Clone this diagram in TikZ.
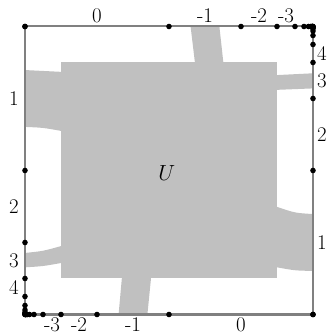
\documentclass[tikz,border=0pt]{standalone}
\begin{document}
\begin{tikzpicture}[x=1cm,y=1cm,
  gfill/.style={fill={rgb,255:red,192;green,192;blue,192}},
  edgeline/.style={draw={rgb,255:red,128;green,128;blue,128},line width=1.6pt},
  vdot/.style={circle,fill=black,inner sep=0pt,minimum size=4.4pt},
  lab/.style={inner sep=0pt,font=\fontsize{16.5}{20}\selectfont}]
\useasboundingbox (-0.694,-0.514) rectangle (8.472,8.736);
% grey region
\fill[gfill] (1,1) rectangle (7,7);
\fill[gfill] (4.72,6.9) -- (4.72,7) .. controls (4.64,7.5) .. (4.60,8) -- (5.40,8) .. controls (5.44,7.5) .. (5.51,7) -- (5.51,6.9) -- cycle;
\fill[gfill] (2.69,1.1) -- (2.69,1) .. controls (2.63,0.5) .. (2.60,0) -- (3.40,0) .. controls (3.44,0.5) .. (3.50,1) -- (3.50,1.1) -- cycle;
\fill[gfill] (1.1,5.10) -- (1,5.10) .. controls (0.5,5.19) .. (0,5.21) -- (0,6.79) .. controls (0.5,6.78) .. (1,6.74) -- (1.1,6.74) -- cycle;
\fill[gfill] (6.9,1.31) -- (7,1.31) .. controls (7.5,1.22) .. (8,1.21) -- (8,2.79) .. controls (7.5,2.82) .. (7,2.99) -- (6.9,2.99) -- cycle;
\fill[gfill] (6.9,6.24) -- (7,6.24) .. controls (7.5,6.27) .. (8,6.28) -- (8,6.70) .. controls (7.5,6.69) .. (7,6.65) -- (6.9,6.65) -- cycle;
\fill[gfill] (1.1,1.43) -- (1,1.43) .. controls (0.5,1.34) .. (0,1.31) -- (0,1.71) .. controls (0.5,1.76) .. (1,1.90) -- (1.1,1.90) -- cycle;
% square
\coordinate (bl) at (0,0);
\coordinate (tr) at (8,8);
\draw[edgeline] (bl) rectangle (tr);
% dots
\foreach \k in {0,...,11}{
  \pgfmathsetmacro{\a}{8/(2^\k)}
  \pgfmathsetmacro{\b}{8-8/(2^\k)}
  \node[vdot] (t\k) at (\b,8) {};
  \node[vdot] (r\k) at (8,\b) {};
  \node[vdot] (b\k) at (\a,0) {};
  \node[vdot] (l\k) at (0,\a) {};
}
% labels
\node[lab] (tl0) at (2,8.31) {0};
\node[lab] (tl1) at (5,8.31) {-1};
\node[lab] (tl2) at (6.5,8.31) {-2};
\node[lab] (tl3) at (7.25,8.31) {-3};
\node[lab] (rl1) at (8.25,2) {1};
\node[lab] (rl2) at (8.25,5) {2};
\node[lab] (rl3) at (8.25,6.5) {3};
\node[lab] (rl4) at (8.25,7.25) {4};
\node[lab] (bl0) at (6,-0.28) {0};
\node[lab] (bl1) at (3,-0.28) {-1};
\node[lab] (bl2) at (1.5,-0.28) {-2};
\node[lab] (bl3) at (0.75,-0.28) {-3};
\node[lab] (ll1) at (-0.31,6) {1};
\node[lab] (ll2) at (-0.31,3) {2};
\node[lab] (ll3) at (-0.31,1.5) {3};
\node[lab] (ll4) at (-0.31,0.75) {4};
\node[lab] (U) at (3.94,3.92) {$U$};
\end{tikzpicture}
\end{document}
